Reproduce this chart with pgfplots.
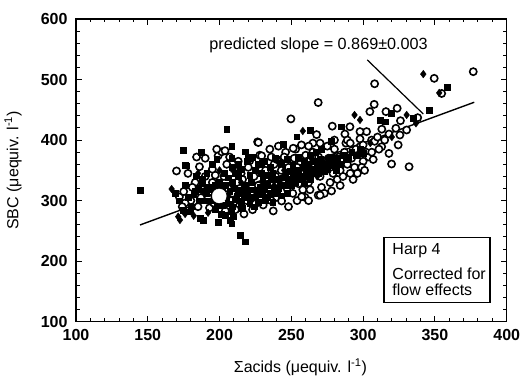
\documentclass[border=0pt]{standalone}
\usepackage{fontspec}
\setmainfont{Liberation Sans}
\usepackage{pgfplots}
\pgfplotsset{compat=1.18}
\usepackage{pgfplotstable}
\pgfplotstableread{
x y
170 349
178 345
186 356
190 370
199 374
201.5 380.6
183 330
188 318
192 305
195 330
197 342
180 300
185 290
176 296
193 288
172 306
196 296
190 340
181 322
175 315
226.5 397
205 360
210 352
215 345
220 355
224 340
228 375
212 330
218 322
222 310
206 320
208 300
214 292
219 300
225 295
227 325
230 315
203 340
209 312
216 335
221 366
229 350
211 285
223 285
204 283
217 278
249.7 435
230.4 292.8
237.4 283
243.2 299.4
259.5 305.5
235 320
240 330
245 335
250 342
255 328
232 350
238 360
242 345
248 355
252 370
256 360
259 345
234 310
239 305
244 315
247 320
251 312
254 300
258 318
236 372
246 380
253 385
260 375
241 390
233 338
227 396
229.3 374
251.3 386.5
239.8 368
203.8 382.5
268.7 462
278.5 423
267.6 409
268.7 309
257.2 306.5
262 330
264 345
266 355
270 340
272 350
274 362
276 370
279 345
281 358
283 372
285 365
287 380
289 360
263 318
271 322
277 330
282 335
286 340
265 380
275 390
280 385
288 395
290.8 422
287.3 410
289 400
284 325
273 312
278 316
261 365
269 372
284 350
308 493
307.7 459
304.7 447
315.9 447
323.7 452.6
319.8 360.5
332 356
322.8 419.5
330.3 416.7
325.6 408.4
324.4 392
312.9 389
302.4 414
305.9 400
297.8 414
297.8 402
297.8 389
292 370
295 385
298 378
300 365
302 380
294 355
296 345
299 355
304 372
308 398
310 405
313 418
318 410
315 400
306 380
293 335
291 395
301 350
311 385
326 432
318 378
376.7 513
349.5 502
354.7 477
338 437
270 309
236 300
248 290
262 300
245 372
257 392
265 395
235 385
213 365
207 372
198 385
184 372
195 352
200 318
187 305
174 290
243 350
239 340
254 355
291 345
300 392
307 368
280 400
270 395
262 390
}\circles
\pgfplotstableread{
x y
144.6 317.6
174.7 383.7
204.9 418.5
208.4 390
208.4 370
217.7 380.9
220 370
229.3 361.7
244.4 393
253.7 405.6
263 416.7
177 357.7
184 341
175.9 358.9
217.7 232
214.2 243
207.2 268
208.5 262
209.5 273.5
186.4 270.8
188.6 268
174.7 284.5
179.4 281.7
278 398.5
284.5 422
311.7 433
315.2 430.4
319.8 444.3
358.8 487
346 449.8
334.9 436
190 315
193 322
196 310
198 298
202 292
205 305
207 315
210 320
212 308
214 300
216 312
218 318
220 305
222 330
224 318
226 310
228 322
230 335
232 328
234 342
236 335
238 320
240 315
242 325
244 338
246 345
248 332
250 325
252 338
254 350
256 340
258 355
260 348
262 360
264 352
266 365
268 358
270 368
272 360
274 355
276 362
278 372
280 365
282 370
284 360
286 375
288 368
290 372
292 380
295 375
298 385
300 378
200 330
203 345
206 338
209 355
211 345
213 360
215 352
219 365
223 372
227 360
231 365
235 355
239 370
243 362
247 368
251 358
255 372
259 365
263 375
267 380
271 385
194 300
197 286
201 278
204 276
199 265
186 300
182 310
188 335
191 345
183 315
178 305
180 290
172 300
176 325
169 312
195 360
198 368
187 380
185 320
188 328
191 312
194 318
197 325
199 312
202 318
204 326
206 295
209 290
211 302
213 318
215 296
217 306
219 312
221 296
223 318
225 305
227 298
229 310
231 318
233 305
235 312
237 298
239 312
241 320
243 308
245 325
247 312
249 335
251 345
253 330
255 345
257 335
259 328
261 340
263 335
265 345
267 350
269 345
271 355
273 348
275 352
277 358
279 360
281 350
203 305
209 330
213 340
221 342
225 350
233 325
237 345
241 335
249 348
229 345
217 325
201 305
196 318
190 300
208 282
216 288
224 290
232 300
}\squares
\pgfplotstableread{
x y
166.6 319.2
172.4 268
171.2 273.5
176 278
341.9 509
353 478
330.3 441.5
336.8 427.8
294 441.5
297.8 433.3
258 415
185 345
200 350
215 330
230 340
245 350
260 362
275 370
320 405
305 395
182 275
192 280
222 300
238 325
268 340
}\diamonds
\begin{document}
\begin{tikzpicture}
\path[use as bounding box] (-76pt,-55.3pt) rectangle (445pt,321.7pt);
\begin{axis}[
  scale only axis,
  width=430.7pt, height=302.7pt,
  xmin=100, xmax=400, ymin=100, ymax=600,
  xtick={100,150,...,400}, ytick={100,200,...,600},
  minor x tick num=4, minor y tick num=4,
  tick align=inside,
  major tick length=6pt, minor tick length=3.5pt,
  axis line style={line width=1.2pt},
  every tick/.style={black, line width=1pt},
  /pgf/number format/assume math mode=true,
  tick label style={font=\fontsize{16}{18}\selectfont\bfseries},
  xticklabel style={yshift=-4pt},
  yticklabel style={xshift=-5pt},
  xlabel={\fontsize{16}{18}\selectfont Σacids (μequiv. l\textsuperscript{-1})},
  ylabel={\fontsize{16}{18}\selectfont SBC (μequiv. l\textsuperscript{-1})},
  xlabel style={at={(axis description cs:0.521,-0.150)}, anchor=center},
  ylabel style={at={(axis description cs:-0.146,0.5)}, anchor=center, rotate=0},
  clip=false,
]
\addplot[only marks, mark=*, mark size=3.6pt, mark options={fill=white, draw=black, line width=1.6pt}] table {\circles};
\addplot[only marks, mark=square*, mark size=2.9pt, mark options={fill=black, draw=black}] table {\squares};
\addplot[only marks, mark=diamond*, mark size=3.8pt, mark options={fill=black, draw=black}] table {\diamonds};
\addplot[only marks, mark=*, mark size=7pt, mark options={fill=white, draw=white}] coordinates {(199.8,307.7)};
\addplot[no marks, black, line width=1.4pt] coordinates {(144.6,259.8) (377.4,462.5)};
\addplot[no marks, black, line width=1.2pt] coordinates {(302.9,532.4) (341.9,443.1)};
\node[anchor=base west, inner sep=0pt, font=\fontsize{16.2}{18}\selectfont] at (axis cs:192.8,549) {predicted slope = 0.869±0.003};
\draw[line width=1.2pt, fill=white] (axis cs:314.5,131.4) rectangle (axis cs:388.3,239.4);
\node[anchor=base west, inner sep=0pt, font=\fontsize{16}{18}\selectfont] at (axis cs:320.3,211.8) {Harp 4};
\node[anchor=base west, inner sep=0pt, font=\fontsize{16}{18}\selectfont] at (axis cs:320.3,168.9) {Corrected for};
\node[anchor=base west, inner sep=0pt, font=\fontsize{16}{18}\selectfont] at (axis cs:320.3,144.1) {flow effects};
\end{axis}
\end{tikzpicture}
\end{document}
